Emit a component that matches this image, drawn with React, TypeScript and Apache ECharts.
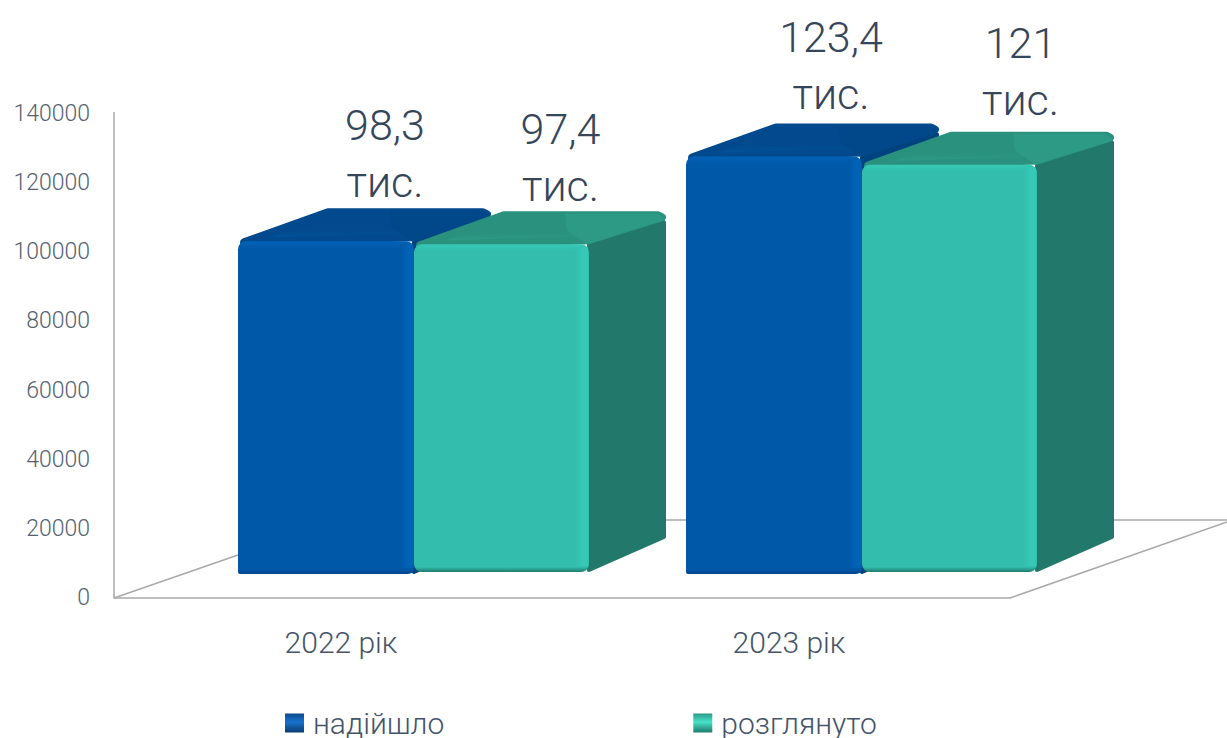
import React, { useEffect, useRef } from "react";
import * as echarts from "echarts";

const categories = ["2022 рік", "2023 рік"];
const received = [98300, 123400];
const reviewed = [97400, 121000];
const seriesNames = ["надійшло", "розглянуто"];
const axisTicks = { min: 0, max: 140000, interval: 20000 };

const FONT = "Roboto";
const TEXT = "#44546a";

const blue = { front: "#0058a8", hi: "#0262b6", edge: "#00458f", top: "#024a8d", bevel: "#01488a", side: "#00437f", band: "#01559f", r: [8, 8, 6, 2] };
const teal = { front: "#33bdac", hi: "#36c9b6", edge: "#1f7a6c", top: "#2a917e", bevel: "#2d9a85", side: "#21786b", band: "#2da08e", r: [8, 8, 8, 8] };

const fmt = (v: number) => String(v / 1000).replace(".", ",") + "\nтис.";

// hand-placed label nudges of the original, per series then category
const nudgeX = [[59, 57], [59, 71]];
const nudgeY = [[-55, -58], [-54, -60]];

function makeRenderer(seriesIdx: number, pal: typeof blue) {
  return (_params: any, api: any) => {
    const cat = api.value(0);
    const val = api.value(1);
    const top = api.coord([cat, val]);
    const base = api.coord([cat, 0]);
    const baseY = base[1] + (seriesIdx === 0 ? 1 : -1);
    const w = 175;
    const mid = top[0] + 76;
    const L = seriesIdx === 0 ? mid - w - 1 : mid;
    const R = L + w + (seriesIdx === 0 ? 1 : 0);
    const yt = top[1];
    const h = baseY - yt;
    const dxB = 77;
    const dy = 33;
    const frontGrad = new echarts.graphic.LinearGradient(0, 0, 0, 1, [
      { offset: 0, color: pal.hi },
      { offset: 8 / h, color: pal.front },
      { offset: 1 - 5 / h, color: pal.front },
      { offset: 1, color: pal.edge },
    ]);
    const hiGrad = new echarts.graphic.LinearGradient(0, 0, 1, 0, [
      { offset: 0, color: pal.front },
      { offset: 0.6, color: pal.hi },
      { offset: 1, color: pal.hi },
    ]);
    const topGrad = new echarts.graphic.LinearGradient(0, 0, 0, 1, [
      { offset: 0, color: pal.top },
      { offset: 0.6, color: pal.top },
      { offset: 1, color: pal.band },
    ]);
    return {
      type: "group",
      children: [
        {
          type: "polygon",
          shape: { points: [[R, yt + 1], [R + dxB - 2, yt - 22], [R + dxB - 2, baseY - 35], [R, baseY - 2]] },
          style: { fill: pal.side, stroke: pal.side, lineWidth: 4, lineJoin: "round" },
        },
        {
          type: "polygon",
          shape: { points: [[L + 6, yt + 1], [L + 90, yt - dy + 4], [R + dxB - 8, yt - dy + 4], [R + dxB - 4, yt - 27], [R, yt - 4]] },
          style: { fill: topGrad, stroke: pal.top, lineWidth: 8, lineJoin: "round" },
        },
        {
          type: "polygon",
          shape: { points: [[R - 2, yt], [R - 22, yt - 14], [R - 24, yt - dy + 2], [R + dxB - 10, yt - dy + 2], [R + dxB - 2, yt - 26], [R + dxB - 2, yt - 24]] },
          style: { fill: pal.bevel },
        },
        {
          type: "rect",
          shape: { x: L, y: yt, width: R - L, height: h, r: pal.r },
          style: { fill: frontGrad },
        },
        {
          type: "rect",
          shape: { x: R - 14, y: yt + 3, width: 13, height: h - 9 },
          style: { fill: hiGrad },
        },
        {
          type: "text",
          style: {
            text: fmt(val),
            x: (L + R) / 2 + nudgeX[seriesIdx][cat],
            y: yt - dy + nudgeY[seriesIdx][cat],
            align: "center",
            verticalAlign: "middle",
            fontFamily: FONT,
            fontSize: 43,
            fontWeight: 300,
            lineHeight: 57,
            fill: "#36465a",
          },
        },
      ],
    };
  };
}

const floor = (x1: number, y1: number, x2: number, y2: number) => ({
  type: "line",
  z: 0,
  shape: { x1, y1, x2, y2 },
  style: { stroke: "#a9a9a9", lineWidth: 1.5 },
});

export default function App() {
  const ref = useRef<HTMLDivElement>(null);
  useEffect(() => {
    document.body.style.margin = "0";
    const chart = echarts.init(ref.current!, undefined, { renderer: "svg" });
    const hiddenAxis = { show: false };
    chart.setOption({
      animation: false,
      backgroundColor: "#ffffff",
      grid: [
        { left: 114, width: 896, top: 113.5, height: 484 },
        { left: 114, width: 896, top: 100.5, height: 472.5 },
      ],
      xAxis: [
        {
          type: "category",
          gridIndex: 0,
          data: categories,
          offset: 0.5,
          axisLine: { show: true, lineStyle: { color: "#a9a9a9", width: 1.5 } },
          axisTick: { show: false },
          axisLabel: { margin: 29, padding: [0, 0, 0, 6], color: TEXT, fontFamily: FONT, fontWeight: 300, fontSize: 30 },
        },
        { type: "category", gridIndex: 1, data: categories, ...hiddenAxis },
      ],
      yAxis: [
        {
          type: "value",
          gridIndex: 0,
          min: axisTicks.min,
          max: axisTicks.max,
          interval: axisTicks.interval,
          axisLine: { show: false },
          axisTick: { show: false },
          splitLine: { show: false },
          axisLabel: {
            margin: 24,
            color: "#556272",
            fontFamily: FONT,
            fontWeight: 300,
            fontSize: 23,
            formatter: (v: number) => String(v),
          },
        },
        { type: "value", gridIndex: 1, min: axisTicks.min, max: axisTicks.max, ...hiddenAxis },
      ],
      legend: {
        left: 280,
        top: 703,
        itemWidth: 19,
        itemHeight: 19,
        itemGap: 249,
        icon: "rect",
        textStyle: { color: TEXT, fontFamily: FONT, fontWeight: 300, fontSize: 30, lineHeight: 26, padding: [0, 0, 0, 4] },
        data: [
          {
            name: seriesNames[0],
            itemStyle: {
              color: new echarts.graphic.LinearGradient(0, 0, 0, 1, [
                { offset: 0, color: "#0a4a8a" },
                { offset: 0.45, color: "#1a72cc" },
                { offset: 1, color: "#083c70" },
              ]),
            },
          },
          {
            name: seriesNames[1],
            itemStyle: {
              color: new echarts.graphic.LinearGradient(0, 0, 0, 1, [
                { offset: 0, color: "#2a9a88" },
                { offset: 0.45, color: "#48e0c8" },
                { offset: 1, color: "#1f7a6c" },
              ]),
            },
          },
        ],
      },
      graphic: {
        elements: [
          floor(114, 112, 114, 598),
          floor(114, 598, 238, 555),
          floor(1010, 598, 1227, 522),
          floor(664, 520, 686, 520),
          floor(1113, 520, 1227, 520),
        ],
      },
      series: [
        {
          type: "custom",
          name: seriesNames[0],
          xAxisIndex: 1,
          yAxisIndex: 1,
          z: 3,
          itemStyle: { color: blue.front },
          renderItem: makeRenderer(0, blue),
          encode: { x: 0, y: 1 },
          data: received.map((v, i) => [i, v]),
        },
        {
          type: "custom",
          name: seriesNames[1],
          xAxisIndex: 1,
          yAxisIndex: 1,
          z: 4,
          itemStyle: { color: teal.front },
          renderItem: makeRenderer(1, teal),
          encode: { x: 0, y: 1 },
          data: reviewed.map((v, i) => [i, v]),
        },
      ],
    });
    return () => chart.dispose();
  }, []);
  return <div ref={ref} style={{ width: 1227, height: 738 }} />;
}
